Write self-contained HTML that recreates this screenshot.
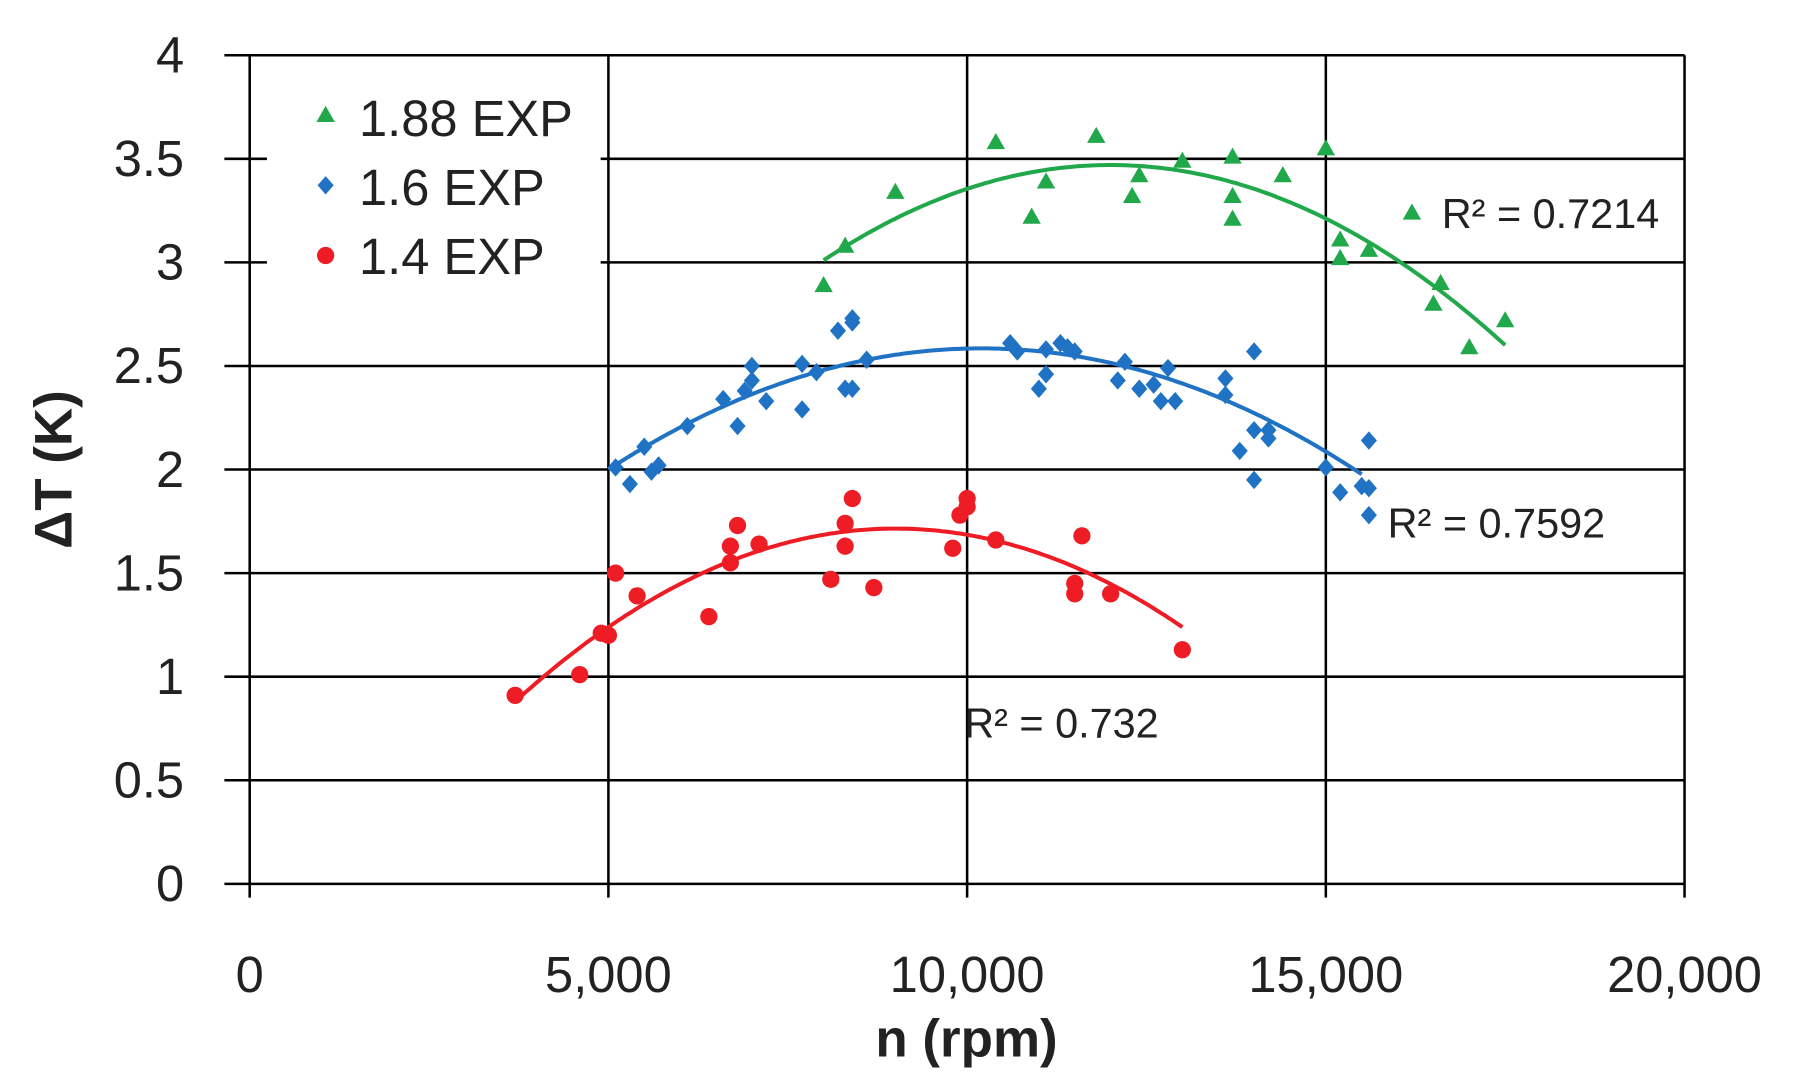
<!DOCTYPE html>
<html><head><meta charset="utf-8"><style>
html,body{margin:0;padding:0;background:#fff;width:1795px;height:1091px;overflow:hidden}
svg{display:block}
text{font-family:"Liberation Sans",sans-serif}
</style></head><body>
<svg id="c" width="1795" height="1091" viewBox="0 0 1560 948" preserveAspectRatio="none" xmlns="http://www.w3.org/2000/svg">
<g id="grid" stroke="#000" stroke-width="2.2"></g>
<rect x="232" y="62" width="290" height="196" fill="#fff"/>
<g id="pts"></g>
<g font-size="44" fill="#222" text-anchor="end" id="yl"></g>
<g font-size="44" fill="#222" text-anchor="middle" id="xl"></g>
<text x="840" y="918" font-size="46" font-weight="bold" text-anchor="middle" fill="#222">n (rpm)</text>
<text transform="translate(62,408) rotate(-90)" font-size="46" font-weight="bold" text-anchor="middle" fill="#222">ΔT (K)</text>
<g font-size="44" fill="#222">
<polygon points="283,92 275,106 291,106" fill="#21a84a"/>
<text x="312" y="118">1.88 EXP</text>
<polygon points="283,153 290,161 283,169 276,161" fill="#1f72c4"/>
<text x="312" y="178">1.6 EXP</text>
<circle cx="283" cy="222" r="7.5" fill="#ee1c25"/>
<text x="312" y="238">1.4 EXP</text>
</g>
<g font-size="36" fill="#222">
<text x="1253" y="198">R² = 0.7214</text>
<text x="1206" y="467">R² = 0.7592</text>
<text x="838" y="641">R² = 0.732</text>
</g>
</svg>
<script>
const X=v=>217+v*0.06235, Y=v=>768-v*180;
const ns="http://www.w3.org/2000/svg";
function el(p,t,a){const e=document.createElementNS(ns,t);for(const k in a)e.setAttribute(k,a[k]);p.appendChild(e);return e;}
const g=document.getElementById('grid');
for(let i=0;i<=8;i++){const y=Y(i*0.5);el(g,'line',{x1:195,x2:1464,y1:y,y2:y});}
for(let i=0;i<=4;i++){const x=X(i*5000);el(g,'line',{x1:x,x2:x,y1:48,y2:780});}
const yl=document.getElementById('yl');
['0','0.5','1','1.5','2','2.5','3','3.5','4'].forEach((t,i)=>{el(yl,'text',{x:160,y:Y(i*0.5)+15}).textContent=t;});
const xl=document.getElementById('xl');
['0','5,000','10,000','15,000','20,000'].forEach((t,i)=>{el(xl,'text',{x:X(i*5000),y:862}).textContent=t;});
const P=document.getElementById('pts');
function fit(x0,x1,xp,yp,ya,col){ // parabola through vertex (xp,yp) and (x0,ya)
 const a=(ya-yp)/Math.pow(x0-xp,2);let d='';
 for(let x=x0;x<=x1;x+=50){d+=(d?'L':'M')+X(x).toFixed(1)+','+Y(yp+a*(x-xp)*(x-xp)).toFixed(1);}
 el(P,'path',{d:d,fill:'none',stroke:col,'stroke-width':3.5});}
fit(8000,17500,12000,3.47,3.01,'#21a84a');
fit(5000,15500,10200,2.585,2.0,'#1f72c4');
fit(3700,13000,9000,1.715,0.88,'#ee1c25');
const R=[[3700,0.91],[4600,1.01],[4900,1.21],[5000,1.2],[5100,1.5],[5400,1.39],[6400,1.29],[6700,1.55],[6700,1.63],[6800,1.73],[7100,1.64],[8100,1.47],[8300,1.74],[8300,1.63],[8400,1.86],[8700,1.43],[9800,1.62],[9900,1.78],[10000,1.86],[10000,1.82],[10400,1.66],[11500,1.45],[11500,1.4],[11600,1.68],[12000,1.4],[13000,1.13]];
const B=[[5100,2.01],[5300,1.93],[5500,2.11],[5600,1.99],[5700,2.02],[6100,2.21],[6600,2.34],[6800,2.21],[6900,2.38],[7000,2.43],[7000,2.5],[7200,2.33],[7700,2.29],[7700,2.51],[7900,2.47],[8200,2.67],[8300,2.39],[8400,2.71],[8400,2.73],[8400,2.39],[8600,2.53],[10600,2.61],[10700,2.57],[11000,2.39],[11100,2.46],[11100,2.58],[11300,2.61],[11400,2.59],[11500,2.57],[12100,2.43],[12200,2.52],[12400,2.39],[12600,2.41],[12700,2.33],[12800,2.49],[12900,2.33],[13600,2.44],[13600,2.36],[13800,2.09],[14000,2.57],[14000,2.19],[14000,1.95],[14200,2.15],[14200,2.19],[15000,2.01],[15200,1.89],[15500,1.92],[15600,1.91],[15600,1.78],[15600,2.14]];
const G=[[8000,2.89],[8300,3.08],[9000,3.34],[10400,3.58],[10900,3.22],[11100,3.39],[11800,3.61],[12300,3.32],[12400,3.42],[13000,3.49],[13700,3.21],[13700,3.32],[13700,3.51],[14400,3.42],[15000,3.55],[15200,3.11],[15200,3.02],[15600,3.06],[16200,3.24],[16500,2.8],[16600,2.9],[17000,2.59],[17500,2.72]];
R.forEach(p=>el(P,'circle',{cx:X(p[0]),cy:Y(p[1]),r:7.5,fill:'#ee1c25'}));
B.forEach(p=>{const x=X(p[0]),y=Y(p[1]);el(P,'polygon',{points:`${x},${y-8} ${x+7},${y} ${x},${y+8} ${x-7},${y}`,fill:'#1f72c4'});});
G.forEach(p=>{const x=X(p[0]),y=Y(p[1]);el(P,'polygon',{points:`${x},${y-8} ${x+8},${y+6} ${x-8},${y+6}`,fill:'#21a84a'});});
</script>
</body></html>
